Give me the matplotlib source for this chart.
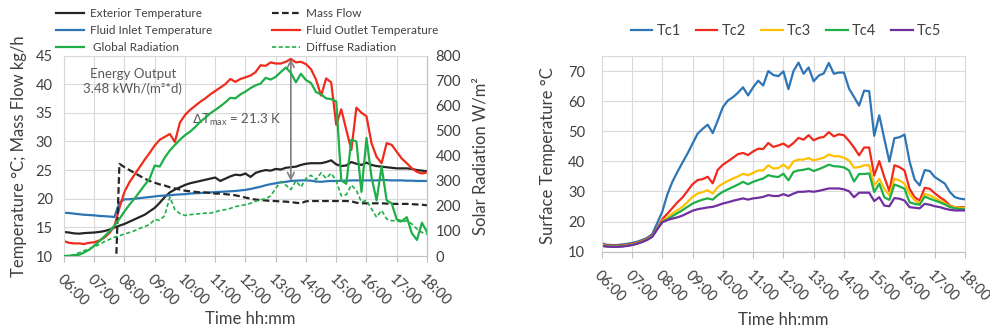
import numpy as np
import pandas as pd
import matplotlib
matplotlib.use("Agg")
import matplotlib.pyplot as plt

plt.rcParams['font.family'] = ['Lato', 'DejaVu Sans']

# ---------------- data (10 min steps, 06:00 .. 18:00) ----------------
t_start = "2023-06-01 06:00"
t_end = "2023-06-01 18:00"

exterior_temp = [14.2, 14.1, 13.95, 13.9, 14.0, 14.05,
                 14.1, 14.2, 14.35, 14.6, 14.95, 15.3,
                 15.6, 16.0, 16.4, 16.8, 17.2, 17.8,
                 18.4, 19.3, 20.3, 21.1, 21.6, 22.0,
                 22.4, 22.7, 22.9, 23.1, 23.3, 23.5,
                 23.7, 23.1, 23.5, 23.9, 24.2, 24.1,
                 24.4, 23.8, 24.5, 24.8, 25.0, 24.9,
                 25.2, 25.1, 25.4, 25.5, 25.6, 25.9,
                 26.1, 26.2, 26.2, 26.2, 26.4, 26.7,
                 26.0, 25.7, 25.8, 26.4, 26.1, 25.9,
                 26.3, 25.9, 25.7, 25.6, 25.5, 25.4,
                 25.3, 25.3, 25.3, 25.2, 25.0, 24.9,
                 24.8]

inlet_temp = [17.55, 17.5, 17.4, 17.3, 17.2, 17.15,
              17.1, 17.0, 16.95, 16.9, 16.8, 19.3,
              19.9, 19.9, 20.0, 20.1, 20.2, 20.3,
              20.4, 20.5, 20.55, 20.6, 20.7, 20.75,
              20.8, 20.9, 20.95, 21.0, 21.05, 21.1,
              21.15, 21.2, 21.25, 21.3, 21.35, 21.45,
              21.55, 21.7, 21.9, 22.1, 22.35, 22.55,
              22.7, 22.85, 22.95, 23.1, 23.15, 23.2,
              23.2, 23.15, 23.0, 22.95, 23.05, 23.1,
              23.1, 23.15, 23.15, 23.2, 23.2, 23.2,
              23.2, 23.2, 23.2, 23.3, 23.25, 23.2,
              23.2, 23.2, 23.15, 23.15, 23.1, 23.1,
              23.1]

outlet_temp = [12.6, 12.3, 12.2, 12.2, 12.1, 12.3,
               12.4, 12.7, 13.2, 14.0, 15.2, 18.4,
               21.2, 22.9, 24.2, 25.5, 26.8, 28.0,
               29.3, 30.3, 30.8, 31.3, 29.9, 33.3,
               34.6, 35.5, 36.2, 36.9, 37.5, 38.2,
               38.8, 39.4, 40.0, 40.9, 40.4, 40.9,
               41.2, 41.5, 42.1, 43.3, 43.2, 43.8,
               43.6, 43.6, 43.9, 44.4, 43.8, 43.9,
               43.5, 42.6, 40.8, 38.0, 41.0, 40.3,
               32.9, 35.6, 32.0, 28.5, 35.9, 35.0,
               34.4, 29.7, 27.3, 26.2, 29.7, 29.4,
               28.2, 27.0, 26.2, 25.3, 24.7, 24.4,
               24.6]

mass_flow = [0, 0, 0, 0, 0, 0,
             0, 0, 0, 0, 0, 26.1,
             25.5, 25.0, 24.5, 24.0, 23.5, 23.1,
             22.8, 22.5, 22.3, 22.0, 21.8, 21.6,
             21.4, 21.3, 21.2, 21.1, 21.1, 21.0,
             20.9, 20.9, 20.8, 20.7, 20.6, 20.4,
             20.2, 20.0, 19.85, 19.75, 19.7, 19.6,
             19.6, 19.5, 19.5, 19.4, 19.3, 19.2,
             19.55, 19.6, 19.6, 19.6, 19.6, 19.6,
             19.6, 19.6, 19.6, 19.55, 19.3, 19.2,
             19.2, 19.2, 19.2, 19.2, 19.15, 19.1,
             19.1, 19.1, 19.1, 19.05, 19.0, 18.95,
             18.85]

global_rad = [0, 1, 3, 5, 14, 25,
              41, 59, 78, 98, 121, 148,
              178, 205, 229, 256, 283, 309,
              361, 357, 393, 421, 443, 464,
              482, 496, 514, 535, 551, 569,
              583, 597, 613, 631, 629, 645,
              656, 670, 681, 688, 711, 704,
              715, 734, 752, 731, 693, 727,
              702, 690, 654, 645, 629, 626,
              617, 302, 288, 464, 457, 256,
              471, 315, 222, 357, 222, 210,
              146, 139, 155, 91, 64, 133,
              96]

diffuse_rad = [0, 0, 5, 13, 21, 29,
               37, 46, 57, 66, 75, 81,
               88, 94, 101, 110, 117, 126,
               146, 142, 162, 235, 185, 169,
               162, 165, 167, 169, 171, 171,
               176, 182, 185, 190, 197, 201,
               205, 210, 218, 225, 228, 240,
               270, 297, 283, 265, 300, 275,
               310, 322, 305, 332, 310, 330,
               300, 240, 245, 283, 262, 215,
               222, 188, 155, 182, 148, 141,
               141, 135, 141, 128, 108, 94,
               87]

tc1 = [12.8, 12.3, 12.2, 12.2, 12.4, 12.6,
       12.9, 13.3, 13.9, 14.6, 15.8, 19.5,
       23.3, 29.0, 33.2, 36.5, 39.6, 42.6,
       45.9, 49.2, 50.8, 52.2, 49.4, 53.6,
       58.0, 60.2, 61.3, 62.8, 64.6, 61.9,
       64.6, 66.8, 65.2, 70.0, 68.7, 68.3,
       69.9, 64.0, 70.0, 72.8, 69.1, 71.2,
       66.6, 68.5, 69.2, 72.7, 69.1, 69.5,
       69.5, 64.2, 61.4, 58.5, 63.5, 63.3,
       48.5, 55.3, 47.5, 39.9, 47.7, 48.0,
       48.9, 40.0, 34.0, 32.0, 37.1, 36.8,
       34.8, 33.7, 32.6, 29.8, 28.1, 27.6,
       27.4]

tc2 = [12.4, 12.1, 12.0, 12.0, 12.1, 12.3,
       12.6, 13.0, 13.6, 14.3, 15.3, 17.8,
       20.8, 22.6, 24.5, 26.4, 28.0, 30.2,
       32.4, 33.8, 34.1, 34.9, 32.7, 37.2,
       38.9, 40.0, 41.2, 42.4, 42.8, 42.1,
       43.3, 44.2, 44.1, 46.1, 44.8, 45.3,
       45.9, 44.8, 46.1, 47.8, 47.2, 48.7,
       47.0, 47.8, 48.1, 49.7, 48.3, 49.0,
       48.7, 46.8, 44.6, 42.0, 44.6, 44.6,
       35.3, 40.1, 34.8, 30.1, 38.7, 38.1,
       37.0, 30.9, 28.1, 27.0, 31.2, 30.9,
       29.4, 28.1, 27.0, 25.3, 24.8, 24.8,
       24.8]

tc3 = [12.2, 11.9, 11.8, 11.8, 11.9, 12.1,
       12.4, 12.8, 13.4, 14.1, 15.1, 17.6,
       20.2, 21.3, 22.7, 23.8, 24.9, 26.5,
       28.2, 29.3, 29.8, 30.4, 29.3, 31.5,
       32.6, 33.5, 34.3, 35.0, 35.9, 35.4,
       36.2, 37.0, 37.0, 38.7, 37.6, 37.8,
       38.9, 37.6, 40.0, 40.6, 40.6, 41.1,
       40.3, 40.8, 41.2, 42.3, 41.7, 41.7,
       41.2, 40.3, 37.9, 38.1, 38.7, 38.7,
       32.0, 34.2, 30.9, 28.7, 34.2, 33.7,
       32.6, 29.2, 27.1, 26.0, 29.2, 28.7,
       27.9, 27.0, 26.1, 25.0, 24.8, 24.6,
       24.6]

tc4 = [12.0, 11.8, 11.7, 11.7, 11.8, 12.0,
       12.3, 12.7, 13.3, 14.0, 15.0, 17.5,
       19.9, 20.7, 21.8, 22.8, 23.8, 24.9,
       26.0, 26.7, 27.3, 27.7, 27.3, 28.8,
       29.9, 30.7, 31.5, 32.3, 33.2, 32.4,
       33.2, 33.8, 34.3, 35.4, 35.0, 34.8,
       35.9, 33.7, 36.5, 37.0, 37.2, 37.6,
       36.8, 37.4, 38.1, 38.9, 38.4, 38.3,
       38.0, 37.0, 33.3, 35.8, 35.8, 36.0,
       29.8, 32.6, 28.1, 27.2, 32.3, 31.7,
       30.9, 26.4, 25.9, 25.6, 28.3, 27.6,
       27.0, 26.4, 25.7, 24.8, 24.4, 24.2,
       24.2]

tc5 = [11.9, 11.7, 11.6, 11.6, 11.7, 11.9,
       12.2, 12.6, 13.2, 13.9, 14.9, 17.4,
       19.8, 20.5, 21.0, 21.4, 22.0, 22.8,
       23.6, 24.1, 24.4, 24.7, 24.9, 25.4,
       26.0, 26.4, 26.9, 27.3, 27.7, 27.3,
       27.7, 27.9, 28.2, 28.8, 28.5, 28.5,
       29.1, 28.5, 29.3, 29.9, 29.9, 30.1,
       29.9, 30.2, 30.6, 31.0, 31.0, 31.0,
       30.7, 30.1, 28.1, 29.6, 29.6, 29.6,
       26.8, 28.1, 25.3, 25.1, 27.8, 27.6,
       27.0, 24.8, 24.6, 24.4, 25.9, 25.6,
       25.1, 24.8, 24.3, 23.9, 23.7, 23.7,
       23.7]

times = pd.date_range(t_start, t_end, freq="10min")
hours = pd.date_range(t_start, t_end, freq="1h")
hour_labels = [h.strftime("%H:%M") for h in hours]

grid_c = "#D9D9D9"
text_c = "#404040"
c_black = "#262626"
c_blue = "#2E75B6"
c_red = "#F02B1D"
c_green = "#1FAF48"
c_yellow = "#FFC000"
c_purple = "#7030A0"

fig = plt.figure(figsize=(9.9, 3.3), dpi=100)


def style_axes(ax, ylim, yticks):
    ax.set_xlim(times[0], times[-1])
    ax.set_ylim(*ylim)
    ax.set_yticks(yticks)
    ax.set_xticks(hours)
    ax.set_xticklabels(hour_labels, rotation=-45, ha="left", va="top",
                       rotation_mode="anchor")
    ax.grid(True, color=grid_c, lw=0.8)
    ax.set_axisbelow(True)
    for s in ax.spines.values():
        s.set_color(grid_c)
    ax.spines["bottom"].set_color("#BFBFBF")
    ax.tick_params(axis="x", colors="#BFBFBF", labelcolor=text_c,
                   labelsize=10.5, length=4, pad=8)
    ax.tick_params(axis="y", length=0, labelcolor=text_c, labelsize=10.5)


# ---------------- left chart ----------------
ax1 = fig.add_axes([0.0646, 0.2242, 0.3667, 0.6076])
style_axes(ax1, (10, 45), range(10, 46, 5))
ax1.tick_params(axis="y", pad=8)

l_ext, = ax1.plot(times, exterior_temp, color=c_black, lw=1.6)
l_in, = ax1.plot(times, inlet_temp, color=c_blue, lw=1.6)
l_out, = ax1.plot(times, outlet_temp, color=c_red, lw=1.6)
l_mass, = ax1.plot(times, mass_flow, color=c_black, lw=1.6,
                   linestyle=(0, (3, 1.5)))

ax2 = ax1.twinx()
ax2.set_ylim(0, 800)
ax2.set_yticks(range(0, 801, 100))
ax2.tick_params(axis="y", length=0, labelcolor=text_c, labelsize=10.5, pad=6)
for s in ax2.spines.values():
    s.set_visible(False)
ax2.spines["right"].set_visible(True)
ax2.spines["right"].set_color("#BFBFBF")
l_glob, = ax2.plot(times, global_rad, color=c_green, lw=1.6)
l_diff, = ax2.plot(times, diffuse_rad, color=c_green, lw=1.2,
                   linestyle=(0, (2.5, 1.5)))

# delta T annotation at the outlet maximum
i_max = int(np.argmax(outlet_temp))
t_max = times[i_max]
ax1.annotate("", xy=(t_max, outlet_temp[i_max]), xytext=(t_max, inlet_temp[i_max]),
             arrowprops=dict(arrowstyle="<->", color="#7F7F7F", lw=1.2,
                             shrinkA=0, shrinkB=0, mutation_scale=12),
             zorder=5)
ax1.annotate(r"$\Delta$T$_{\mathregular{max}}$ = 21.3 K",
             xy=(t_max, (outlet_temp[i_max] + inlet_temp[i_max]) / 2),
             xytext=(-7, 0), textcoords="offset points",
             ha="right", va="center", color="#595959", fontsize=9.5)
ax1.text(0.19, 0.87, "Energy Output\n3.48 kWh/(m²*d)", transform=ax1.transAxes,
         ha="center", va="center", color="#595959", fontsize=9.5,
         linespacing=1.3)

fig.text(19 / 990, 1 - 156 / 330, "Temperature °C; Mass Flow kg/h", rotation=90,
         ha="center", va="center", fontsize=12, color=text_c)
fig.text(481 / 990, 1 - 156 / 330, "Solar Radiation W/m²", rotation=90,
         ha="center", va="center", fontsize=12, color=text_c)
fig.text(250 / 990, 1 - 319 / 330, "Time hh:mm", ha="center", va="center",
         fontsize=12, color=text_c)

fig.legend([l_ext, l_in, l_glob, l_mass, l_out, l_diff],
           ["Exterior Temperature", "Fluid Inlet Temperature", " Global Radiation",
            "Mass Flow", "Fluid Outlet Temperature", "Diffuse Radiation"],
           ncol=2, loc="upper left", bbox_to_anchor=(56 / 990, 1 - 8 / 330),
           frameon=False, fontsize=8.5, handlelength=2.4, handletextpad=0.5,
           labelspacing=0.5, columnspacing=5.0, borderpad=0, borderaxespad=0,
           labelcolor=text_c)

# ---------------- right chart ----------------
ax3 = fig.add_axes([0.6078, 0.2373, 0.3670, 0.5930])
style_axes(ax3, (10, 75), range(10, 71, 10))
ax3.tick_params(axis="y", pad=12)
h1, = ax3.plot(times, tc1, color=c_blue, lw=1.6)
h2, = ax3.plot(times, tc2, color=c_red, lw=1.6)
h3, = ax3.plot(times, tc3, color=c_yellow, lw=1.6)
h4, = ax3.plot(times, tc4, color=c_green, lw=1.6)
h5, = ax3.plot(times, tc5, color=c_purple, lw=1.6)

fig.text(548 / 990, 1 - 156 / 330, "Surface Temperature °C", rotation=90,
         ha="center", va="center", fontsize=12, color=text_c)
fig.text(783 / 990, 1 - 320 / 330, "Time hh:mm", ha="center", va="center",
         fontsize=12, color=text_c)
fig.legend([h1, h2, h3, h4, h5], ["Tc1", "Tc2", "Tc3", "Tc4", "Tc5"],
           ncol=5, loc="center", bbox_to_anchor=(786 / 990, 1 - 31 / 330),
           frameon=False, fontsize=10.5, handlelength=1.5, handletextpad=0.3,
           columnspacing=1.0, labelcolor=text_c)

fig.savefig("out.png", dpi=100)
